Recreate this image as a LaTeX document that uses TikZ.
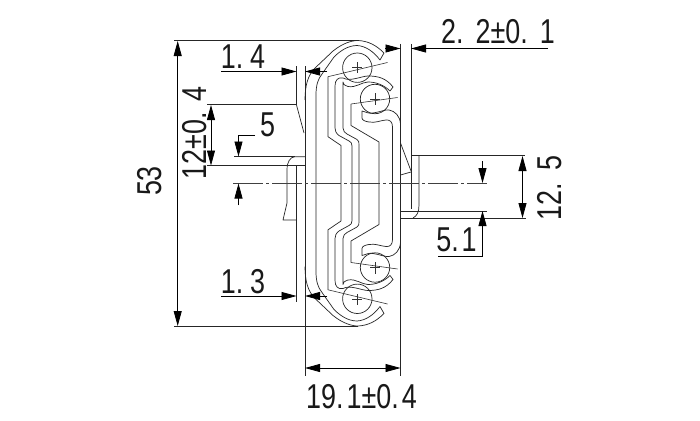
\documentclass[tikz,border=0pt]{standalone}
\usepackage{fontspec}
\usetikzlibrary{arrows.meta}
\newfontfamily\dimfont[FakeStretch=0.78]{Liberation Sans}
\tikzset{
  ln/.style={draw=black!85,line width=0.7pt,line join=round},
  thin ln/.style={draw=black!80,line width=0.6pt},
  dimtip/.style={-{Triangle[length=15pt,width=8pt]},draw=black,fill=black,line width=0.8pt},
  center ln/.style={draw=black!75,line width=0.7pt,dash pattern=on 30pt off 3pt on 3pt off 3pt},
  dimtext/.style={font=\dimfont\fontsize{34.5}{34.5}\selectfont,text=black!90,inner sep=0pt}
}
\newcommand{\gp}[1]{\hspace{#1pt}}
\newcommand{\halfslide}{%
  % outer shell
  \draw[ln] (305,100) .. controls (305,85) and (308,76) .. (314,69) -- (333,51) .. controls (343,43) and (352,40.5) .. (358,40.5) .. controls (368,41) and (376,45) .. (384,53) -- (380,60) .. controls (374,52) and (366,46) .. (357,45.5) .. controls (348,45.5) and (340,51) .. (334,57) -- (322,74) .. controls (318,79) and (316,85) .. (316,95) -- (316,183.25);
  \draw[ln] (305,100) -- (305,183.25);
  % balls
  \draw[ln] (357.3,67.7) circle (14.7);
  \draw[ln] (375,99) circle (14.7);
  \draw[thin ln] (352.3,67.7) -- (362.3,67.7) (357.3,62) -- (357.3,73);
  \draw[thin ln] (370,99) -- (380,99) (375,93) -- (375,105);
  \draw[thin ln] (328,76.7) -- (387.5,62.5);
  \draw[thin ln] (351,104) -- (397.5,97.5);
  % channel A
  \draw[ln] (328,76.7) -- (328,136.7) -- (341,145.5) -- (341,183.25);
  % channel B
  \draw[ln] (352,183.25) -- (352,146) .. controls (352,143) and (351,142) .. (349,141) -- (339,135.5) .. controls (336,133) and (335,131) .. (335,128) -- (335,86) .. controls (335,80) and (338,77) .. (343,78) .. controls (350,82) and (362,76) .. (368,76) .. controls (378,76) and (386,78) .. (393,87) -- (390,91) .. controls (384,85) and (376,82) .. (368,82) .. controls (362,82) and (356,88) .. (348,86.5) .. controls (344,85) and (343,84) .. (343,82) -- (343,128) .. controls (343,131) and (345,133) .. (347,134) -- (357,139.5) .. controls (359,141) and (359,142) .. (359,145) -- (359,183.25);
  % channel C
  \draw[ln] (351,104) -- (351,125.5) -- (379,142) -- (379,183.25);
  % channel D
  \draw[ln] (392.5,183.25) -- (392.5,127) .. controls (392.5,122) and (390,119.5) .. (386,120) .. controls (378,121) and (376,123) .. (369,122) .. controls (365,121.5) and (362,120) .. (362,118) -- (362,111) .. controls (366,112) and (369,114) .. (373,113) .. controls (380,112) and (385,109.5) .. (389,110) .. controls (395,111) and (400,116) .. (400.5,124);
}
\begin{document}
\begin{tikzpicture}[x=1pt,y=-1pt]
\useasboundingbox (0,0) rectangle (700,420);
\fill[white] (0,0) rectangle (700,420);
\halfslide
\begin{scope}[shift={(0,366.5)},yscale=-1]
\halfslide
\end{scope}
% frame verticals
\draw[ln] (305,66) -- (305,376);
\draw[ln] (400.5,44) -- (400.5,376);
\draw[ln] (411,44) -- (411,209);
% left piece
\draw[ln] (296.5,66) -- (296.5,105) -- (304,133);
\draw[ln] (296.5,165) -- (296.5,302);
\draw[ln] (305,156.7) -- (295,156.7) .. controls (290,157) and (287,162) .. (287,170) -- (287,203) -- (283,220) -- (296.5,220);
% right piece
\draw[ln] (400.5,143) -- (411,171);
\draw[ln] (400.5,175) -- (411,172);
\draw[ln] (411,155.7) -- (525,155.7);
\draw[ln] (419,155.7) -- (419,205) .. controls (419,212) and (417,216) .. (413,218);
\draw[ln] (400.5,211) -- (487,211);
\draw[ln] (400.5,218) -- (526,218);
% extension lines
\draw[ln] (174,40.5) -- (358,40.5);
\draw[ln] (174,326) -- (358,326);
\draw[ln] (207,104.5) -- (296.5,104.5);
\draw[ln] (207,165.8) -- (305,165.8);
\draw[ln] (234,156.7) -- (295,156.7);
\draw[center ln] (233,183) -- (487,183);
% dimension lines
\draw[dimtip] (177.7,183) -- (177.7,41);
\draw[dimtip] (177.7,183) -- (177.7,326);
\draw[dimtip] (221,71.5) -- (296.5,71.5);
\draw[dimtip] (327,71.5) -- (305,71.5);
\draw[dimtip] (221,296) -- (296.5,296);
\draw[dimtip] (327,296) -- (305,296);
\draw[dimtip] (211,135) -- (211,105);
\draw[dimtip] (211,135) -- (211,165.5);
\draw[draw=black,line width=0.8pt] (255,135) -- (238.5,135);
\draw[dimtip] (238.5,135) -- (238.5,156.5);
\draw[dimtip] (238.5,205) -- (238.5,183.5);
\draw[dimtip] (385,48.5) -- (400.5,48.5);
\draw[dimtip] (548,48.5) -- (411,48.5);
\draw[dimtip] (522.5,187) -- (522.5,156);
\draw[dimtip] (522.5,187) -- (522.5,218);
\draw[dimtip] (482.5,161) -- (482.5,183);
\draw[draw=black,line width=0.8pt] (438,256) -- (482.5,256);
\draw[dimtip] (482.5,256) -- (482.5,211);
\draw[dimtip] (352,368) -- (305,368);
\draw[dimtip] (352,368) -- (400.5,368);
% labels
\node[dimtext] (t14) at (243,57) {1.\gp{7}4};
\node[dimtext] (t13) at (243,282) {1.\gp{7}3};
\node[dimtext] (t22) at (498,32) {2.\gp{12}2±0.\gp{12}1};
\node[dimtext,rotate=90] (t53) at (150,181) {53};
\node[dimtext,rotate=90] (t12) at (195,133) {12±0.\gp{10}4};
\node[dimtext] (t5) at (267.5,125) {5};
\node[dimtext,rotate=90] (t125) at (550,188) {12.\gp{12}5};
\node[dimtext] (t51) at (456.5,240) {5.\gp{3}1};
\node[dimtext] (t191) at (361.5,397) {19.\gp{3}1±0.\gp{3}4};
\end{tikzpicture}
\end{document}
